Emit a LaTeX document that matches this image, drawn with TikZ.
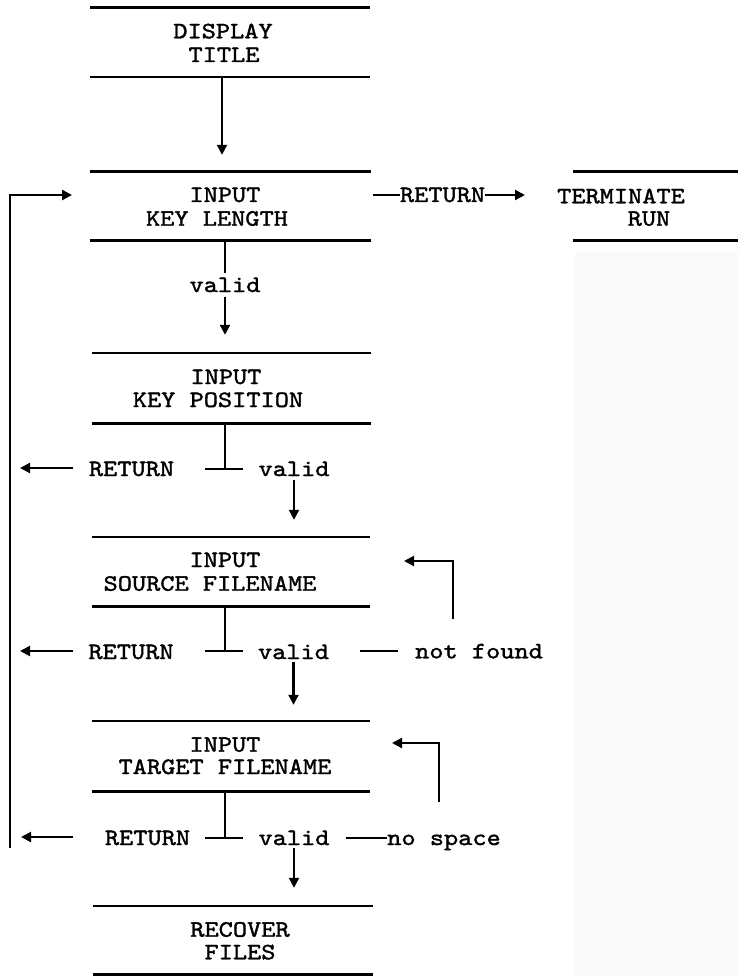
\documentclass[tikz,border=0pt]{standalone}
\usepackage{fontspec}
\usetikzlibrary{arrows.meta}
\newfontfamily\tw{lmmono10-regular}[Extension=.otf, FakeStretch=1.15, FakeBold=1.5]
\tikzset{
  boxline/.style={line width=2.6pt},
  conn/.style={line width=2.1pt},
  tbar/.style={line width=3pt},
  arr/.style={conn,-{Triangle[length=10pt,width=10pt]}},
  txt/.style={font=\tw\fontsize{23.5}{24}\selectfont, inner sep=0pt, anchor=base},
  frame/.style={inner sep=0pt, minimum width=#1},
}
\begin{document}
\begin{tikzpicture}[x=1pt,y=-1pt]
\useasboundingbox (0,0) rectangle (738,976);
\fill[black!2] (575,252) rectangle (738,976);

% frames (invisible nodes carrying the box extents)
\node[frame=280pt, minimum height=69pt] (A) at (230,42.5) {};
\node[frame=281pt, minimum height=68pt] (B) at (230.5,206) {};
\node[frame=166pt, minimum height=68pt] (T) at (656,206) {};
\node[frame=279pt, minimum height=70pt] (C) at (231.5,388) {};
\node[frame=278pt, minimum height=69pt] (D) at (231,571.5) {};
\node[frame=278pt, minimum height=70pt] (E) at (231,756) {};
\node[frame=280pt, minimum height=68pt] (F) at (233,940) {};
\foreach \b in {A,B,T,C,D,E,F}{
  \draw[boxline] (\b.north west) -- (\b.north east);
  \draw[boxline] (\b.south west) -- (\b.south east);
}

% box texts
\node[txt] (a1) at (223,38.3) {DISPLAY};
\node[txt] (a2) at (224,62) {TITLE};
\node[txt] (b1) at (225,202) {INPUT};
\node[txt] (b2) at (217,225.7) {KEY LENGTH};
\node[txt] (t1) at (621,203.3) {TERMINATE};
\node[txt] (t2) at (649,225.7) {RUN};
\node[txt] (c1) at (226,384) {INPUT};
\node[txt] (c2) at (218,407) {KEY POSITION};
\node[txt] (d1) at (225,567) {INPUT};
\node[txt] (d2) at (210,590.7) {SOURCE FILENAME};
\node[txt] (e1) at (225,751.7) {INPUT};
\node[txt] (e2) at (225,774) {TARGET FILENAME};
\node[txt] (f1) at (240,936.7) {RECOVER};
\node[txt] (f2) at (240,959.3) {FILES};

% labels
\node[txt] (r0) at (442.5,202) {RETURN};
\node[txt] (v0) at (225,292) {valid};
\node[txt] (r1) at (131.5,476) {RETURN};
\node[txt] (v1) at (294,476) {valid};
\node[txt] (r2) at (131,659) {RETURN};
\node[txt] (v2) at (293.5,659) {valid};
\node[txt] (nf) at (479,658.3) {not found};
\node[txt] (r3) at (147.5,845) {RETURN};
\node[txt] (v3) at (294,845) {valid};
\node[txt] (ns) at (444,845) {no space};

% main flow
\draw[arr, shorten >=17pt] ([xshift=-8pt]A.south) -- ([xshift=-8.5pt]B.north);
\draw[conn, shorten >=4pt] (v0.north |- B.south) -- (v0.north);
\draw[arr, shorten <=5pt, shorten >=18pt] (v0.south) -- (v0.south |- C.north);
\draw[arr, shorten <=4pt, shorten >=17pt] (v1.south) -- (v1.south |- D.north);
\draw[arr, shorten <=3pt, shorten >=16pt] (v2.south) -- (v2.south |- E.north);
\draw[arr, shorten <=3pt, shorten >=18pt] (v3.south) -- (v3.south |- F.north);

% RETURN to terminate
\coordinate (r0a) at (373,195);
\coordinate (r0b) at (525,195);
\draw[conn] (r0a) -- (r0.west |- r0a);
\draw[arr] (r0.east |- r0a) -- (r0b);

% T junctions
\foreach \b/\y in {C/469,D/651,E/838}{
  \coordinate (tj\b) at (225,\y);
  \draw[conn] (\b.south -| tj\b) -- (tj\b);
  \draw[tbar] ([xshift=-23pt]\b.south -| tj\b) -- ([xshift=21pt]\b.south -| tj\b);
  \draw[conn] ([xshift=-20pt]tj\b) -- ([xshift=18pt]tj\b);
}

% left return arrows and loop
\coordinate (la1) at (73,468);  \coordinate (lb1) at (20,468);
\coordinate (la2) at (73,651);  \coordinate (lb2) at (20,651);
\coordinate (la3) at (73,837);  \coordinate (lb3) at (21,837);
\draw[arr] (la1) -- (lb1);
\draw[arr] (la2) -- (lb2);
\draw[arr] (la3) -- (lb3);
\coordinate (lpbot) at (10,848);
\coordinate (lptop) at (10,195);
\coordinate (lpend) at (72,195);
\draw[arr, line width=2.8pt] (lpbot) -- (lptop) -- (lpend);

% not found / no space
\coordinate (nfa) at (360,650.7);
\draw[conn] (nfa) -- (398,650.7);
\coordinate (nsa) at (346,838);
\draw[conn] (nsa) -- (ns.west |- nsa);
\coordinate (lo1) at (453,619);
\coordinate (lo1e) at (404,561);
\draw[arr] (lo1) -- (lo1 |- lo1e) -- (lo1e);
\coordinate (lo2) at (439,802);
\coordinate (lo2e) at (392,743);
\draw[arr] (lo2) -- (lo2 |- lo2e) -- (lo2e);
\end{tikzpicture}
\end{document}
